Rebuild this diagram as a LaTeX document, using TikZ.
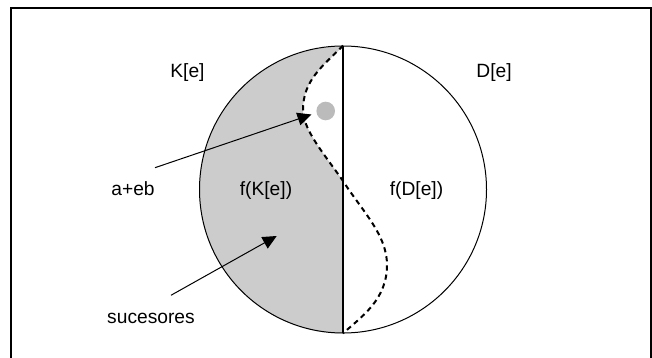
\documentclass[tikz,border=0pt]{standalone}
\usepackage{fontspec}
\setmainfont{Liberation Sans}
\usepackage{xcolor}
\usetikzlibrary{arrows.meta}
\definecolor{halfgray}{HTML}{CCCCCC}
\definecolor{dotgray}{HTML}{BBBBBB}

\begin{document}
\begin{tikzpicture}[
    x=0.5pt, y=-0.5pt,
    lbl/.style={anchor=base, inner sep=0pt, font=\fontsize{9.6}{11}\selectfont},
    pointer/.style={-{Triangle[length=7pt, width=6.5pt]}, line width=0.5pt},
    frontier/.style={line width=1pt, dash pattern=on 2.6pt off 2pt}
]
\useasboundingbox (0,0) rectangle (652,358);
\draw[line width=0.8pt] (11,362) |- (651,8) -- (651,362);

\coordinate (cross) at (343,181);
\node[circle, minimum size=143.5pt, inner sep=0pt] (disc) at (343,189.5) {};
\fill[halfgray] (cross) -- (disc.south) arc[start angle=270, end angle=90, radius=71.75pt]
    .. controls (323,66) and (303,80) .. (303,110)
    .. controls (303,130) and (325,155) .. (cross) -- cycle;
\node[circle, draw, line width=0.5pt, minimum size=143.5pt, inner sep=0pt] at (disc.center) {};
\draw[line width=1.2pt] (disc.north) -- (disc.south);
\draw[frontier] (disc.north)
    .. controls (323,66) and (303,80) .. (303,110)
    .. controls (303,130) and (325,155) .. (cross)
    .. controls (363,212) and (387,235) .. (387,265)
    .. controls (387,300) and (361,317) .. (disc.south);
\node[circle, fill=dotgray, minimum size=9.3pt, inner sep=0pt] (point) at (325.7,111) {};

\node[lbl] (kset) at (187.5,77) {K[e]};
\node[lbl] (dset) at (494,77) {D[e]};
\node[lbl] (ab) at (133,195) {a+eb};
\node[lbl] (fk) at (266,195) {f(K[e])};
\node[lbl] (fd) at (416.5,195) {f(D[e])};
\node[lbl] (suc) at (151,323) {sucesores};

\coordinate (abtip) at (311.5,114.5);
\coordinate (suctip) at (276.7,236);
\draw[pointer] (ab.north east) ++(0,-13) -- (abtip);
\draw[pointer] (suc.north) ++(20,-17) -- (suctip);
\end{tikzpicture}
\end{document}
